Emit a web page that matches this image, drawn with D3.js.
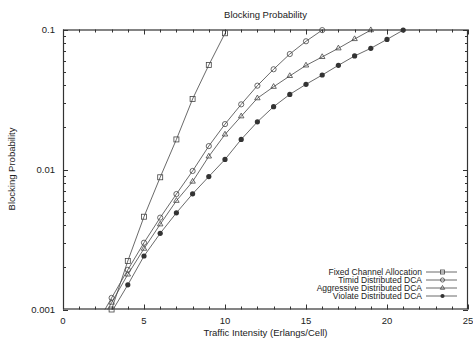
<!DOCTYPE html>
<html>
<head>
<meta charset="utf-8">
<script src="https://cdn.jsdelivr.net/npm/d3@7"></script>
<style>
  html, body { margin: 0; padding: 0; background: #fff; }
  svg text { font-family: "Liberation Sans", Arial, sans-serif; fill: #222; }
</style>
</head>
<body>
<svg id="chart" width="473" height="341"></svg>
<script>
// data
const fixedX = [2, 3, 4, 5, 6, 7, 8, 9, 10];
const fixedY = [0.0004, 0.001, 0.00222, 0.0046, 0.0088, 0.0164, 0.0319, 0.0557, 0.094];

const timidX = [2, 3, 4, 5, 6, 7, 8, 9, 10, 11, 12, 13, 14, 15, 16];
const timidY = [0.00076, 0.00121, 0.00192, 0.0030, 0.00453, 0.00668, 0.00976, 0.0147, 0.0211,
  0.0292, 0.0397, 0.052, 0.0668, 0.0824, 0.099];

const aggrX = [2, 3, 4, 5, 6, 7, 8, 9, 10, 11, 12, 13, 14, 15, 16, 17, 18, 19];
const aggrY = [0.0007, 0.00112, 0.00178, 0.00272, 0.00406, 0.00598, 0.0082, 0.0124, 0.0178,
  0.024, 0.0323, 0.039, 0.0466, 0.0554, 0.0637, 0.0734, 0.0855, 0.099];

const violX = [3, 4, 5, 6, 7, 8, 9, 10, 11, 12, 13, 14, 15, 16, 17, 18, 19, 20, 21];
const violY = [0.00096, 0.0015, 0.00241, 0.0035, 0.0049, 0.0067, 0.0089, 0.0118, 0.0164,
  0.0219, 0.0281, 0.0344, 0.0406, 0.0473, 0.0555, 0.0647, 0.0734, 0.085, 0.099];

const seriesNames = ['Fixed Channel Allocation', 'Timid Distributed DCA',
  'Aggressive Distributed DCA', 'Violate Distributed DCA'];
const xTicks = [0, 5, 10, 15, 20, 25];
const yTicks = [0.001, 0.01, 0.1];

const series = [
  { name: seriesNames[0], xs: fixedX, ys: fixedY, mark: 'square' },
  { name: seriesNames[1], xs: timidX, ys: timidY, mark: 'circle' },
  { name: seriesNames[2], xs: aggrX, ys: aggrY, mark: 'triangle' },
  { name: seriesNames[3], xs: violX, ys: violY, mark: 'dot' }
];

const svg = d3.select('#chart');
const m = { left: 63, right: 468, top: 29.5, bottom: 309.5 };
const lineColor = '#444';

const x = d3.scaleLinear().domain([0, 25]).range([m.left, m.right]);
const y = d3.scaleLog().domain([0.001, 0.1]).range([m.bottom, m.top]);

svg.append('defs').append('clipPath').attr('id', 'plot')
  .append('rect').attr('x', m.left).attr('y', m.top)
  .attr('width', m.right - m.left).attr('height', m.bottom - m.top);

// ticks (gnuplot style, inward on all four sides)
const ticks = svg.append('g').attr('stroke', '#333').attr('stroke-width', 1);
d3.range(0, 26).forEach(v => {
  const len = v % 5 === 0 ? 5 : 3;
  const px = Math.round(x(v)) + 0.5;
  ticks.append('line').attr('x1', px).attr('x2', px).attr('y1', m.bottom).attr('y2', m.bottom - len);
  ticks.append('line').attr('x1', px).attr('x2', px).attr('y1', m.top).attr('y2', m.top + len);
});
const yMinor = [];
[0.001, 0.01].forEach(d => d3.range(2, 10).forEach(k => yMinor.push(d * k)));
yMinor.concat(yTicks).forEach(v => {
  const len = yTicks.includes(v) ? 5 : 3;
  const py = Math.round(y(v)) + 0.5;
  ticks.append('line').attr('x1', m.left).attr('x2', m.left + len).attr('y1', py).attr('y2', py);
  ticks.append('line').attr('x1', m.right).attr('x2', m.right - len).attr('y1', py).attr('y2', py);
});

// frame
svg.append('rect').attr('x', m.left + 0.5).attr('y', m.top + 0.5)
  .attr('width', m.right - m.left - 1).attr('height', m.bottom - m.top - 1)
  .attr('fill', 'none').attr('stroke', '#333').attr('stroke-width', 1.2);

// tick labels
svg.append('g').selectAll('text').data(xTicks).join('text')
  .attr('x', d => x(d)).attr('y', m.bottom + 14)
  .attr('text-anchor', 'middle').attr('font-size', 9.5)
  .text(d => d);
svg.append('g').selectAll('text').data(yTicks).join('text')
  .attr('x', m.left - 8).attr('y', d => y(d) + 3.5)
  .attr('text-anchor', 'end').attr('font-size', 9.5)
  .text(d => String(d));

// titles
svg.append('text').attr('x', 265.5).attr('y', 18).attr('text-anchor', 'middle')
  .attr('font-size', 9.5).text('Blocking Probability');
svg.append('text').attr('x', 265.5).attr('y', 336).attr('text-anchor', 'middle')
  .attr('font-size', 9.5).text('Traffic Intensity (Erlangs/Cell)');
svg.append('text').attr('transform', 'translate(15,169) rotate(-90)')
  .attr('text-anchor', 'middle').attr('font-size', 9.5).text('Blocking Probability');

function drawMark(g, type, cx, cy, s = 1) {
  if (type === 'square') {
    g.append('rect').attr('x', cx - 2.5 * s).attr('y', cy - 2.5 * s)
      .attr('width', 5 * s).attr('height', 5 * s)
      .attr('fill', 'none').attr('stroke', lineColor).attr('stroke-width', 0.8);
  } else if (type === 'circle') {
    g.append('circle').attr('cx', cx).attr('cy', cy).attr('r', 2.6 * s)
      .attr('fill', 'none').attr('stroke', lineColor).attr('stroke-width', 0.8);
  } else if (type === 'triangle') {
    g.append('path').attr('d', d3.symbol(d3.symbolTriangle, 13 * s * s)())
      .attr('transform', `translate(${cx},${cy})`)
      .attr('fill', 'none').attr('stroke', lineColor).attr('stroke-width', 0.8);
  } else {
    g.append('circle').attr('cx', cx).attr('cy', cy).attr('r', 2.6 * s).attr('fill', '#333');
  }
}

const line = d3.line().x(d => x(d[0])).y(d => y(d[1]));
const plot = svg.append('g').attr('clip-path', 'url(#plot)');
series.forEach(s => {
  const pts = s.xs.map((v, i) => [v, s.ys[i]]);
  plot.append('path').datum(pts).attr('d', line)
    .attr('fill', 'none').attr('stroke', lineColor).attr('stroke-width', 0.8);
  const mg = svg.append('g');
  pts.filter(p => p[1] >= 0.001 && p[1] <= 0.1)
    .forEach(p => drawMark(mg, s.mark, x(p[0]), y(p[1])));
});

// legend
const legend = svg.append('g');
series.forEach((s, i) => {
  const ly = 272 + i * 8;
  legend.append('text').attr('x', 422).attr('y', ly + 3).attr('text-anchor', 'end')
    .attr('font-size', 8.5).text(s.name);
  legend.append('line').attr('x1', 426).attr('x2', 457).attr('y1', ly).attr('y2', ly)
    .attr('stroke', lineColor).attr('stroke-width', 0.8);
  drawMark(legend, s.mark, 442.5, ly, 0.8);
});
</script>
</body>
</html>
